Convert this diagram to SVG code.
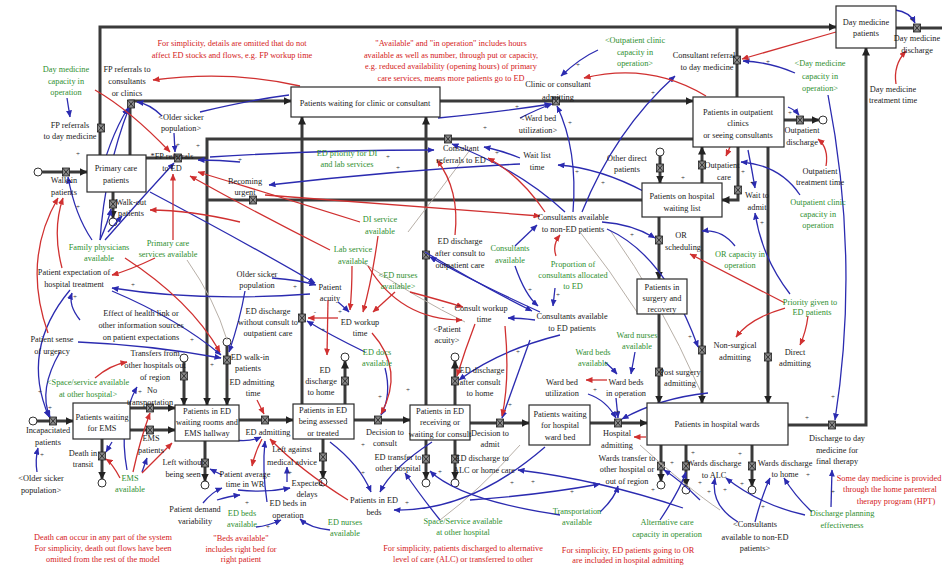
<svg xmlns="http://www.w3.org/2000/svg" xmlns:xlink="http://www.w3.org/1999/xlink" width="942" height="565" viewBox="0 0 942 565">
<style>
text{font-family:"Liberation Serif","Times New Roman",serif;font-size:8.3px;text-anchor:middle}
.k{fill:#1a1a1a}.g{fill:#2f8f2f}.r{fill:#d42020}
.box{fill:#fff;stroke:#2a2a2a;stroke-width:1.2}
.pipe{fill:none;stroke:#3a3a3a;stroke-width:3}
.b{fill:none;stroke:#2b2bb0;stroke-width:1.3}
.rd{fill:none;stroke:#d03030;stroke-width:1.3}
.gy{fill:none;stroke:#b8b0a8;stroke-width:1}
.pl text{font-size:7px;fill:#333}
</style>
<defs>
<marker id="ab" markerUnits="userSpaceOnUse" markerWidth="7" markerHeight="6" refX="6.5" refY="3" orient="auto"><path d="M0,0 L7,3 L0,6 Z" fill="#2b2bb0"/></marker>
<marker id="ar" markerUnits="userSpaceOnUse" markerWidth="7" markerHeight="6" refX="6.5" refY="3" orient="auto"><path d="M0,0 L7,3 L0,6 Z" fill="#d03030"/></marker>
<marker id="ap" markerUnits="userSpaceOnUse" markerWidth="8" markerHeight="8" refX="7.5" refY="4" orient="auto"><path d="M0,0 L8,4 L0,8 Z" fill="#222"/></marker>
<g id="vv"><rect x="-3.5" y="-4" width="7" height="8" fill="#888" stroke="#222" stroke-width="0.8"/><path d="M-3.5,-4 L3.5,4 M3.5,-4 L-3.5,4" stroke="#222" stroke-width="0.8"/></g>
<g id="cl"><circle r="4" fill="#fff" stroke="#333" stroke-width="1"/></g>
</defs>
<rect width="942" height="565" fill="#fff"/>

<g id="connectors">
<g id="pipes">
<path class="pipe" d="M100,155 V27 H836" marker-end="url(#ap)"/>
<path class="pipe" d="M737,97 V27"/>
<path class="pipe" d="M896,28 H942"/>
<path class="pipe" d="M130,155 V101 H291" marker-end="url(#ap)"/>
<path class="pipe" d="M440,101 H693" marker-end="url(#ap)"/>
<path class="pipe" d="M693,139 H207 V405" marker-end="url(#ap)"/>
<path class="pipe" d="M146,158 H207"/>
<path class="pipe" d="M642,200 H207"/>
<path class="pipe" d="M42,172 H87" marker-end="url(#ap)"/>
<path class="pipe" d="M113,192 V218" marker-end="url(#ap)"/>
<path class="pipe" d="M37,421 H73" marker-end="url(#ap)"/>
<path class="pipe" d="M130,408 H175" marker-end="url(#ap)"/>
<path class="pipe" d="M130,430 H175" marker-end="url(#ap)"/>
<path class="pipe" d="M102,439 V479" marker-end="url(#ap)"/>
<path class="pipe" d="M184,362 V405" marker-end="url(#ap)"/>
<path class="pipe" d="M227,346 V405" marker-end="url(#ap)"/>
<path class="pipe" d="M205,441 V481" marker-end="url(#ap)"/>
<path class="pipe" d="M239,420 H293" marker-end="url(#ap)"/>
<path class="pipe" d="M302,404 V117" marker-end="url(#ap)"/>
<path class="pipe" d="M345,404 V361" marker-end="url(#ap)"/>
<path class="pipe" d="M323,439 V478" marker-end="url(#ap)"/>
<path class="pipe" d="M354,420 H410" marker-end="url(#ap)"/>
<path class="pipe" d="M426,405 V117" marker-end="url(#ap)"/>
<path class="pipe" d="M455,405 V361" marker-end="url(#ap)"/>
<path class="pipe" d="M426,440 V479" marker-end="url(#ap)"/>
<path class="pipe" d="M455,440 V479" marker-end="url(#ap)"/>
<path class="pipe" d="M470,423 H529" marker-end="url(#ap)"/>
<path class="pipe" d="M590,423 H647" marker-end="url(#ap)"/>
<path class="pipe" d="M661,445 V481" marker-end="url(#ap)"/>
<path class="pipe" d="M686,445 V486" marker-end="url(#ap)"/>
<path class="pipe" d="M752,445 V486" marker-end="url(#ap)"/>
<path class="pipe" d="M788,425 H866 V48" marker-end="url(#ap)"/>
<path class="pipe" d="M784,120 H819" marker-end="url(#ap)"/>
<path class="pipe" d="M659,217 V279" marker-end="url(#ap)"/>
<path class="pipe" d="M659,314 V403" marker-end="url(#ap)"/>
<path class="pipe" d="M702,217 V403" marker-end="url(#ap)"/>
<path class="pipe" d="M702,183 V147" marker-end="url(#ap)"/>
<path class="pipe" d="M738,147 V200 H722" marker-end="url(#ap)"/>
<path class="pipe" d="M768,147 V403" marker-end="url(#ap)"/>
<path class="pipe" d="M660,156 V183" marker-end="url(#ap)"/>
</g>
<g id="clouds">
<use href="#cl" x="38" y="172"/><use href="#cl" x="113" y="222"/><use href="#cl" x="33" y="421"/><use href="#cl" x="102" y="483"/>
<use href="#cl" x="184" y="358"/><use href="#cl" x="227" y="342"/><use href="#cl" x="205" y="485"/><use href="#cl" x="345" y="357"/>
<use href="#cl" x="323" y="482"/><use href="#cl" x="455" y="357"/><use href="#cl" x="426" y="483"/><use href="#cl" x="455" y="483"/>
<use href="#cl" x="661" y="485"/><use href="#cl" x="686" y="490"/><use href="#cl" x="752" y="490"/><use href="#cl" x="823" y="120"/>
<use href="#cl" x="660" y="152"/>
</g>
<g id="valves">
<use href="#vv" x="101" y="128"/><use href="#vv" x="737" y="60"/><use href="#vv" x="917" y="28"/><use href="#vv" x="131" y="104"/>
<use href="#vv" x="556" y="101"/><use href="#vv" x="448" y="139"/><use href="#vv" x="178" y="158"/><use href="#vv" x="253" y="200"/>
<use href="#vv" x="66" y="172"/><use href="#vv" x="113" y="204"/><use href="#vv" x="53" y="421"/><use href="#vv" x="150" y="408"/>
<use href="#vv" x="150" y="430"/><use href="#vv" x="102" y="456"/><use href="#vv" x="184" y="376"/><use href="#vv" x="227" y="360"/>
<use href="#vv" x="205" y="463"/><use href="#vv" x="265" y="420"/><use href="#vv" x="302" y="318"/><use href="#vv" x="345" y="381"/>
<use href="#vv" x="323" y="457"/><use href="#vv" x="378" y="420"/><use href="#vv" x="426" y="255"/><use href="#vv" x="455" y="381"/>
<use href="#vv" x="426" y="459"/><use href="#vv" x="455" y="459"/><use href="#vv" x="500" y="423"/><use href="#vv" x="618" y="423"/>
<use href="#vv" x="661" y="466"/><use href="#vv" x="686" y="466"/><use href="#vv" x="752" y="466"/><use href="#vv" x="832" y="425"/>
<use href="#vv" x="800" y="120"/><use href="#vv" x="659" y="240"/><use href="#vv" x="659" y="372"/><use href="#vv" x="702" y="350"/>
<use href="#vv" x="702" y="165"/><use href="#vv" x="738" y="190"/><use href="#vv" x="768" y="357"/><use href="#vv" x="660" y="168"/>
</g>
<g id="grey-links">
<path class="gy" d="M362,262 Q420,300 465,322"/>
<path class="gy" d="M580,232 Q610,270 637,312"/>
<path class="gy" d="M187,260 Q215,300 227,340"/>
<path class="gy" d="M408,232 Q440,190 470,150"/>
<path class="gy" d="M610,230 Q660,300 700,390"/>
<path class="gy" d="M520,445 Q480,490 440,520"/>
<path class="gy" d="M640,445 Q690,490 720,510"/>
</g>
<g id="blue-links">
<path class="b" d="M598,50 Q580,58 561,76" marker-end="url(#ab)"/>
<path class="b" d="M795,73 Q770,62 743,61" marker-end="url(#ab)"/>
<path class="b" d="M828,95 Q860,260 835,420" marker-end="url(#ab)"/>
<path class="b" d="M67,98 L70,117" marker-end="url(#ab)"/>
<path class="b" d="M162,116 Q150,104 137,102" marker-end="url(#ab)"/>
<path class="b" d="M174,133 L175,152" marker-end="url(#ab)"/>
<path class="b" d="M97,190 Q108,140 128,108" marker-end="url(#ab)"/>
<path class="b" d="M520,118 Q540,108 552,104" marker-end="url(#ab)"/>
<path class="b" d="M438,118 Q500,112 551,104" marker-end="url(#ab)"/>
<path class="b" d="M573,212 Q578,150 557,106" marker-end="url(#ab)"/>
<path class="b" d="M582,212 Q615,130 675,76" marker-end="url(#ab)"/>
<path class="b" d="M520,158 Q500,150 484,147" marker-end="url(#ab)"/>
<path class="b" d="M645,192 Q600,168 558,165" marker-end="url(#ab)"/>
<path class="b" d="M210,157 Q320,150 434,150" marker-end="url(#ab)"/>
<path class="b" d="M240,162 Q220,160 198,160" marker-end="url(#ab)"/>
<path class="b" d="M520,164 Q400,170 269,185" marker-end="url(#ab)"/>
<path class="b" d="M565,212 Q520,170 452,144" marker-end="url(#ab)"/>
<path class="b" d="M272,278 Q300,280 316,285" marker-end="url(#ab)"/>
<path class="b" d="M310,294 Q200,302 112,288" marker-end="url(#ab)"/>
<path class="b" d="M150,192 Q250,245 315,283" marker-end="url(#ab)"/>
<path class="b" d="M112,291 Q180,320 221,355" marker-end="url(#ab)"/>
<path class="b" d="M78,342 Q150,345 221,358" marker-end="url(#ab)"/>
<path class="b" d="M245,291 Q240,320 229,352" marker-end="url(#ab)"/>
<path class="b" d="M365,352 Q330,335 307,321" marker-end="url(#ab)"/>
<path class="b" d="M338,302 Q345,308 349,312" marker-end="url(#ab)"/>
<path class="b" d="M515,246 L537,225" marker-end="url(#ab)"/>
<path class="b" d="M515,266 Q525,295 538,306" marker-end="url(#ab)"/>
<path class="b" d="M555,288 L553,306" marker-end="url(#ab)"/>
<path class="b" d="M425,252 Q480,285 532,311" marker-end="url(#ab)"/>
<path class="b" d="M602,222 Q632,224 655,238" marker-end="url(#ab)"/>
<path class="b" d="M607,229 Q665,255 698,347" marker-end="url(#ab)"/>
<path class="b" d="M735,246 Q722,229 702,231" marker-end="url(#ab)"/>
<path class="b" d="M790,294 Q762,258 755,213" marker-end="url(#ab)"/>
<path class="b" d="M748,150 Q752,170 755,188" marker-end="url(#ab)"/>
<path class="b" d="M635,352 L631,374" marker-end="url(#ab)"/>
<path class="b" d="M605,362 Q612,368 617,374" marker-end="url(#ab)"/>
<path class="b" d="M588,394 Q606,400 616,418" marker-end="url(#ab)"/>
<path class="b" d="M616,398 L618,418" marker-end="url(#ab)"/>
<path class="b" d="M708,393 Q660,398 622,419" marker-end="url(#ab)"/>
<path class="b" d="M530,340 Q512,390 502,418" marker-end="url(#ab)"/>
<path class="b" d="M560,335 Q500,350 459,380" marker-end="url(#ab)"/>
<path class="b" d="M535,320 Q520,318 508,318" marker-end="url(#ab)"/>
<path class="b" d="M540,312 Q470,280 430,257" marker-end="url(#ab)"/>
<path class="b" d="M385,368 Q392,395 381,415" marker-end="url(#ab)"/>
<path class="b" d="M812,512 Q795,496 784,478" marker-end="url(#ab)"/>
<path class="b" d="M805,515 Q760,505 726,478" marker-end="url(#ab)"/>
<path class="b" d="M831,507 L832,470" marker-end="url(#ab)"/>
<path class="b" d="M755,522 Q762,495 770,478" marker-end="url(#ab)"/>
<path class="b" d="M738,522 Q710,505 715,478" marker-end="url(#ab)"/>
<path class="b" d="M683,508 Q600,480 518,470" marker-end="url(#ab)"/>
<path class="b" d="M660,520 Q680,490 686,472" marker-end="url(#ab)"/>
<path class="b" d="M600,512 Q615,498 618,486" marker-end="url(#ab)"/>
<path class="b" d="M560,515 Q460,500 430,471" marker-end="url(#ab)"/>
<path class="b" d="M440,520 Q420,495 405,473" marker-end="url(#ab)"/>
<path class="b" d="M470,500 Q540,495 600,484" marker-end="url(#ab)"/>
<path class="b" d="M700,500 Q680,480 664,470" marker-end="url(#ab)"/>
<path class="b" d="M330,442 Q360,465 371,492" marker-end="url(#ab)"/>
<path class="b" d="M432,442 Q392,468 380,492" marker-end="url(#ab)"/>
<path class="b" d="M545,447 Q470,512 394,510" marker-end="url(#ab)"/>
<path class="b" d="M267,502 Q262,470 265,441" marker-end="url(#ab)"/>
<path class="b" d="M256,527 Q268,526 281,520" marker-end="url(#ab)"/>
<path class="b" d="M330,530 Q310,528 300,519" marker-end="url(#ab)"/>
<path class="b" d="M287,482 L287,467" marker-end="url(#ab)"/>
<path class="b" d="M238,490 Q265,493 290,488" marker-end="url(#ab)"/>
<path class="b" d="M235,440 Q250,442 261,437" marker-end="url(#ab)"/>
<path class="b" d="M222,475 L210,469" marker-end="url(#ab)"/>
<path class="b" d="M203,503 Q212,492 222,488" marker-end="url(#ab)"/>
<path class="b" d="M217,500 Q230,496 240,495" marker-end="url(#ab)"/>
<path class="b" d="M127,470 Q118,420 137,387" marker-end="url(#ab)"/>
<path class="b" d="M142,472 L147,458" marker-end="url(#ab)"/>
<path class="b" d="M112,442 L106,452" marker-end="url(#ab)"/>
<path class="b" d="M37,472 Q35,460 38,448" marker-end="url(#ab)"/>
<path class="b" d="M70,290 Q20,350 49,417" marker-end="url(#ab)"/>
<path class="b" d="M60,352 Q38,390 50,417" marker-end="url(#ab)"/>
<path class="b" d="M92,240 Q75,215 68,177" marker-end="url(#ab)"/>
<path class="b" d="M100,240 Q105,170 129,108" marker-end="url(#ab)"/>
<path class="b" d="M105,240 Q140,200 174,163" marker-end="url(#ab)"/>
<path class="b" d="M100,240 Q108,222 111,209" marker-end="url(#ab)"/>
<path class="b" d="M80,320 Q68,305 72,293" marker-end="url(#ab)"/>
<path class="b" d="M108,232 L122,216" marker-end="url(#ab)"/>
<path class="b" d="M895,10 Q910,12 915,23" marker-end="url(#ab)"/>
<path class="b" d="M788,107 Q795,110 799,115" marker-end="url(#ab)"/>
<path class="b" d="M800,195 Q780,165 741,162" marker-end="url(#ab)"/>
<path class="b" d="M200,112 Q250,100 289,95"/>
</g>
<g id="red-links">
<path class="rd" d="M300,86 Q230,70 153,80" marker-end="url(#ar)"/>
<path class="rd" d="M836,32 L742,59" marker-end="url(#ar)"/>
<path class="rd" d="M896,84 Q893,65 906,51" marker-end="url(#ar)"/>
<path class="rd" d="M826,166 Q829,148 818,139" marker-end="url(#ar)"/>
<path class="rd" d="M730,147 L726,156" marker-end="url(#ar)"/>
<path class="rd" d="M706,96 Q650,62 584,78" marker-end="url(#ar)"/>
<path class="rd" d="M155,258 Q130,270 112,275" marker-end="url(#ar)"/>
<path class="rd" d="M48,333 Q22,260 58,198" marker-end="url(#ar)"/>
<path class="rd" d="M62,268 Q52,230 63,198" marker-end="url(#ar)"/>
<path class="rd" d="M240,222 Q190,210 150,210" marker-end="url(#ar)"/>
<path class="rd" d="M173,240 L173,174" marker-end="url(#ar)"/>
<path class="rd" d="M125,258 Q190,300 220,352" marker-end="url(#ar)"/>
<path class="rd" d="M95,90 Q130,110 170,152" marker-end="url(#ar)"/>
<path class="rd" d="M360,222 Q290,200 198,172" marker-end="url(#ar)"/>
<path class="rd" d="M330,250 Q260,215 190,176" marker-end="url(#ar)"/>
<path class="rd" d="M545,212 Q520,175 488,158" marker-end="url(#ar)"/>
<path class="rd" d="M455,235 Q460,190 437,160" marker-end="url(#ar)"/>
<path class="rd" d="M338,318 L308,318" marker-end="url(#ar)"/>
<path class="rd" d="M328,300 L327,355" marker-end="url(#ar)"/>
<path class="rd" d="M352,266 Q352,290 350,310" marker-end="url(#ar)"/>
<path class="rd" d="M378,236 Q372,280 363,312" marker-end="url(#ar)"/>
<path class="rd" d="M395,292 L373,312" marker-end="url(#ar)"/>
<path class="rd" d="M372,333 Q405,370 381,414" marker-end="url(#ar)"/>
<path class="rd" d="M556,256 Q552,245 560,235" marker-end="url(#ar)"/>
<path class="rd" d="M785,303 Q740,280 690,254" marker-end="url(#ar)"/>
<path class="rd" d="M785,308 Q750,318 736,337" marker-end="url(#ar)"/>
<path class="rd" d="M808,316 Q806,332 800,345" marker-end="url(#ar)"/>
<path class="rd" d="M607,380 L586,380" marker-end="url(#ar)"/>
<path class="rd" d="M646,437 L634,437" marker-end="url(#ar)"/>
<path class="rd" d="M505,326 Q510,380 502,416" marker-end="url(#ar)"/>
<path class="rd" d="M475,324 Q465,350 457,376" marker-end="url(#ar)"/>
<path class="rd" d="M410,292 Q440,300 463,307" marker-end="url(#ar)"/>
<path class="rd" d="M368,266 Q400,320 462,320" marker-end="url(#ar)"/>
<path class="rd" d="M348,500 Q300,470 270,439" marker-end="url(#ar)"/>
<path class="rd" d="M257,400 L264,414" marker-end="url(#ar)"/>
<path class="rd" d="M262,439 Q255,452 252,466" marker-end="url(#ar)"/>
<path class="rd" d="M133,472 Q140,440 150,413" marker-end="url(#ar)"/>
<path class="rd" d="M120,478 Q112,463 106,459" marker-end="url(#ar)"/>
<path class="rd" d="M142,473 Q160,455 172,443" marker-end="url(#ar)"/>
<path class="rd" d="M95,378 Q110,365 127,362" marker-end="url(#ar)"/>
<path class="rd" d="M265,195 Q400,205 540,216" marker-end="url(#ar)"/>
</g>
</g>

<g id="stock-day-medicine"><rect class="box" x="836" y="6" width="60" height="42"/><text class="k" x="866" y="25">Day medicine</text><text class="k" x="866" y="36">patients</text></g>
<g id="stock-clinic-wait"><rect class="box" x="291" y="87" width="149" height="30"/><text class="k" x="365" y="106">Patients waiting for clinic or consultant</text></g>
<g id="stock-outpatient"><rect class="box" x="693" y="97" width="91" height="50"/><text class="k" x="738" y="115">Patients in outpatient</text><text class="k" x="738" y="126">clinics</text><text class="k" x="738" y="138">or seeing consultants</text></g>
<g id="stock-primary"><rect class="box" x="87" y="155" width="59" height="37"/><text class="k" x="116" y="171">Primary care</text><text class="k" x="116" y="183">patients</text></g>
<g id="stock-waitlist"><rect class="box" x="642" y="183" width="80" height="34"/><text class="k" x="682" y="199">Patients on hospital</text><text class="k" x="682" y="211">waiting list</text></g>
<g id="stock-surgery"><rect class="box" x="637" y="279" width="50" height="35"/><text class="k" x="662" y="290">Patients in</text><text class="k" x="662" y="301">surgery and</text><text class="k" x="662" y="312">recovery</text></g>
<g id="stock-ems"><rect class="box" x="73" y="403" width="57" height="36"/><text class="k" x="102" y="420">Patients waiting</text><text class="k" x="102" y="431">for EMS</text></g>
<g id="stock-ed-wait"><rect class="box" x="175" y="405" width="64" height="36"/><text class="k" x="207" y="414">Patients in ED</text><text class="k" x="207" y="425">waiting rooms and</text><text class="k" x="207" y="436">EMS hallway</text></g>
<g id="stock-ed-assess"><rect class="box" x="293" y="404" width="61" height="35"/><text class="k" x="323" y="413">Patients in ED</text><text class="k" x="323" y="424">being assessed</text><text class="k" x="323" y="436">or treated</text></g>
<g id="stock-ed-consult"><rect class="box" x="410" y="405" width="60" height="35"/><text class="k" x="440" y="414">Patients in ED</text><text class="k" x="440" y="425">receiving or</text><text class="k" x="440" y="437">waiting for consult</text></g>
<g id="stock-ward-wait"><rect class="box" x="529" y="405" width="61" height="40"/><text class="k" x="560" y="417">Patients waiting</text><text class="k" x="560" y="428">for hospital</text><text class="k" x="560" y="440">ward bed</text></g>
<g id="stock-wards"><rect class="box" x="647" y="403" width="141" height="42"/><text class="k" x="717" y="427">Patients in hospital wards</text></g>

<g id="v-fp-consult"><text class="k" x="127" y="72">FP referrals to</text><text class="k" x="127" y="84">consultants</text><text class="k" x="127" y="96">or clinics</text></g>
<g id="v-fp-daymed"><text class="k" x="70" y="128">FP referrals</text><text class="k" x="70" y="139">to day medicine</text></g>
<g id="v-older1"><text class="k" x="181" y="120">&lt;Older sicker</text><text class="k" x="181" y="131">population&gt;</text></g>
<g id="v-fp-ed"><text class="k" x="172" y="159">*FP referrals</text><text class="k" x="172" y="171">to ED</text></g>
<g id="v-walkin"><text class="k" x="64" y="183">Walk-in</text><text class="k" x="64" y="195">patients</text></g>
<g id="v-walkout"><text class="k" x="131" y="205">Walk-out</text><text class="k" x="131" y="216">patients</text></g>
<g id="v-urgent"><text class="k" x="245" y="184">Becoming</text><text class="k" x="245" y="195">urgent</text></g>
<g id="v-cons-ref-ed"><text class="k" x="461" y="151">Consultant</text><text class="k" x="461" y="163">referrals to ED</text></g>
<g id="v-clinic-adm"><text class="k" x="558" y="87">Clinic or consultant</text><text class="k" x="558" y="100">admitting</text></g>
<g id="v-wardutil1"><text class="k" x="538" y="121">&lt;Ward bed</text><text class="k" x="538" y="133">utilization&gt;</text></g>
<g id="v-waitlisttime"><text class="k" x="537" y="158">Wait list</text><text class="k" x="537" y="170">time</text></g>
<g id="v-otherdirect"><text class="k" x="627" y="161">Other direct</text><text class="k" x="627" y="172">patients</text></g>
<g id="v-cons-daymed"><text class="k" x="704" y="58">Consultant referral</text><text class="k" x="707" y="70">to day medicine</text></g>
<g id="v-daymed-dis"><text class="k" x="917" y="41">Day medicine</text><text class="k" x="917" y="53">discharge</text></g>
<g id="v-daymed-time"><text class="k" x="893" y="92">Day medicine</text><text class="k" x="893" y="103">treatment time</text></g>
<g id="v-out-dis"><text class="k" x="802" y="133">Outpatient</text><text class="k" x="802" y="145">discharge</text></g>
<g id="v-out-time"><text class="k" x="820" y="174">Outpatient</text><text class="k" x="820" y="185">treatment time</text></g>
<g id="v-out-care"><text class="k" x="722" y="168">Outpatient</text><text class="k" x="724" y="180">care</text></g>
<g id="v-waitadmit"><text class="k" x="757" y="198">Wait to</text><text class="k" x="757" y="210">admit</text></g>
<g id="v-orsched"><text class="k" x="681" y="238">OR</text><text class="k" x="683" y="250">scheduling</text></g>
<g id="v-cons-nonED"><text class="k" x="573" y="220">Consultants available</text><text class="k" x="573" y="232">to non-ED patients</text></g>
<g id="v-ed-dis-cons-out"><text class="k" x="460" y="244">ED discharge</text><text class="k" x="460" y="256">after consult to</text><text class="k" x="460" y="268">outpatient care</text></g>
<g id="v-consult-workup"><text class="k" x="481" y="311">Consult workup</text><text class="k" x="484" y="322">time</text></g>
<g id="v-acuity2"><text class="k" x="447" y="332">&lt;Patient</text><text class="k" x="447" y="343">acuity&gt;</text></g>
<g id="v-older2"><text class="k" x="257" y="277">Older sicker</text><text class="k" x="257" y="288">population</text></g>
<g id="v-acuity"><text class="k" x="330" y="290">Patient</text><text class="k" x="330" y="301">acuity</text></g>
<g id="v-ed-dis-noconsult"><text class="k" x="268" y="314">ED discharge</text><text class="k" x="268" y="325">without consult to</text><text class="k" x="268" y="336">outpatient care</text></g>
<g id="v-ed-workup"><text class="k" x="360" y="325">ED workup</text><text class="k" x="360" y="336">time</text></g>
<g id="v-ed-walkin"><text class="k" x="250" y="360">ED walk-in</text><text class="k" x="248" y="371">patients</text></g>
<g id="v-ed-dis-home"><text class="k" x="325" y="373">ED</text><text class="k" x="321" y="384">discharge</text><text class="k" x="321" y="395">to home</text></g>
<g id="v-expect"><text class="k" x="74" y="275">Patient expectation of</text><text class="k" x="74" y="287">hospital treatment</text></g>
<g id="v-healthlink"><text class="k" x="141" y="316">Effect of health link or</text><text class="k" x="141" y="328">other information sources</text><text class="k" x="141" y="340">on patient expectations</text></g>
<g id="v-urgency"><text class="k" x="52" y="342">Patient sense</text><text class="k" x="52" y="354">of urgency</text></g>
<g id="v-transfers"><text class="k" x="155" y="356">Transfers from</text><text class="k" x="155" y="368">other hospitals out</text><text class="k" x="155" y="380">of region</text></g>
<g id="v-incap"><text class="k" x="48" y="433">Incapacitated</text><text class="k" x="48" y="445">patients</text></g>
<g id="v-older3"><text class="k" x="41" y="481">&lt;Older sicker</text><text class="k" x="41" y="493">population&gt;</text></g>
<g id="v-notransport"><text class="k" x="152" y="393">No</text><text class="k" x="150" y="405">transportation</text></g>
<g id="v-emspat"><text class="k" x="151" y="441">EMS</text><text class="k" x="151" y="453">patients</text></g>
<g id="v-death"><text class="k" x="83" y="456">Death in</text><text class="k" x="83" y="467">transit</text></g>
<g id="v-lwbs"><text class="k" x="183" y="465">Left without</text><text class="k" x="183" y="477">being seen</text></g>
<g id="v-avgtime"><text class="k" x="245" y="477">Patient average</text><text class="k" x="245" y="487">time in WR</text></g>
<g id="v-demand"><text class="k" x="195" y="512">Patient demand</text><text class="k" x="195" y="524">variability</text></g>
<g id="v-ed-adm-time"><text class="k" x="252" y="385">ED admitting</text><text class="k" x="253" y="396">time</text></g>
<g id="v-ed-adm"><text class="k" x="268" y="435">ED admitting</text></g>
<g id="v-lama"><text class="k" x="292" y="452">Left against</text><text class="k" x="292" y="465">medical advice</text></g>
<g id="v-delays"><text class="k" x="307" y="486">Expected</text><text class="k" x="307" y="497">delays</text></g>
<g id="v-edbeds-op"><text class="k" x="288" y="506">ED beds in</text><text class="k" x="288" y="518">operation</text></g>
<g id="v-dec-consult"><text class="k" x="385" y="435">Decision to</text><text class="k" x="385" y="446">consult</text></g>
<g id="v-ed-transfer"><text class="k" x="398" y="460">ED transfer to</text><text class="k" x="398" y="471">other hospital</text></g>
<g id="v-edbeds-pat"><text class="k" x="374" y="503">Patients in ED</text><text class="k" x="374" y="515">beds</text></g>
<g id="v-ed-dis-cons-home"><text class="k" x="482" y="373">ED discharge</text><text class="k" x="480" y="385">after consult</text><text class="k" x="480" y="396">to home</text></g>
<g id="v-dec-admit"><text class="k" x="490" y="436">Decision to</text><text class="k" x="490" y="447">admit</text></g>
<g id="v-ed-alc"><text class="k" x="482" y="461">ED discharge to</text><text class="k" x="484" y="473">ALC or home care</text></g>
<g id="v-wardutil"><text class="k" x="562" y="385">Ward bed</text><text class="k" x="562" y="396">utilization</text></g>
<g id="v-wardbeds-op"><text class="k" x="626" y="385">Ward beds</text><text class="k" x="626" y="396">in operation</text></g>
<g id="v-hosp-adm"><text class="k" x="617" y="436">Hospital</text><text class="k" x="617" y="448">admitting</text></g>
<g id="v-ward-transfer"><text class="k" x="627" y="461">Wards transfer to</text><text class="k" x="627" y="472">other hospital or</text><text class="k" x="627" y="484">out of region</text></g>
<g id="v-postsurg"><text class="k" x="680" y="375">Post surgery</text><text class="k" x="680" y="386">admitting</text></g>
<g id="v-nonsurg"><text class="k" x="735" y="348">Non-surgical</text><text class="k" x="735" y="360">admitting</text></g>
<g id="v-direct"><text class="k" x="795" y="355">Direct</text><text class="k" x="795" y="366">admitting</text></g>
<g id="v-ward-alc"><text class="k" x="714" y="466">Wards discharge</text><text class="k" x="714" y="478">to ALC</text></g>
<g id="v-ward-home"><text class="k" x="785" y="466">Wards discharge</text><text class="k" x="785" y="477">to home</text></g>
<g id="v-dis-daymed"><text class="k" x="837" y="441">Discharge to day</text><text class="k" x="837" y="453">medicine for</text><text class="k" x="837" y="464">final therapy</text></g>
<g id="v-cons-nonED2"><text class="k" x="755" y="527">&lt;Consultants</text><text class="k" x="755" y="540">available to non-ED</text><text class="k" x="755" y="551">patients&gt;</text></g>

<g id="v-daymed-cap"><text class="g" x="66" y="72">Day medicine</text><text class="g" x="66" y="84">capacity in</text><text class="g" x="66" y="95">operation</text></g>
<g id="v-out-cap2"><text class="g" x="635" y="43">&lt;Outpatient clinic</text><text class="g" x="635" y="55">capacity in</text><text class="g" x="635" y="66">operation&gt;</text></g>
<g id="v-daymed-cap2"><text class="g" x="820" y="66">&lt;Day medicine</text><text class="g" x="820" y="79">capacity in</text><text class="g" x="820" y="91">operation&gt;</text></g>
<g id="v-ed-priority"><text class="g" x="347" y="156">ED priority for DI</text><text class="g" x="347" y="167">and lab services</text></g>
<g id="v-fam-phys"><text class="g" x="99" y="250">Family physicians</text><text class="g" x="99" y="261">available</text></g>
<g id="v-primary-serv"><text class="g" x="168" y="246">Primary care</text><text class="g" x="168" y="257">services available</text></g>
<g id="v-di"><text class="g" x="380" y="222">DI service</text><text class="g" x="380" y="234">available</text></g>
<g id="v-lab"><text class="g" x="353" y="252">Lab service</text><text class="g" x="353" y="264">available</text></g>
<g id="v-ednurses2"><text class="g" x="398" y="278">&lt;ED nurses</text><text class="g" x="398" y="289">available&gt;</text></g>
<g id="v-eddocs"><text class="g" x="377" y="355">ED docs</text><text class="g" x="377" y="366">available</text></g>
<g id="v-cons-avail"><text class="g" x="510" y="251">Consultants</text><text class="g" x="510" y="263">available</text></g>
<g id="v-proportion"><text class="g" x="573" y="267">Proportion of</text><text class="g" x="573" y="278">consultants allocated</text><text class="g" x="573" y="289">to ED</text></g>
<g id="v-cons-ED"><text class="k" x="572" y="319">Consultants available</text><text class="k" x="572" y="331">to ED patients</text></g>
<g id="v-wardnurses"><text class="g" x="637" y="338">Ward nurses</text><text class="g" x="637" y="349">available</text></g>
<g id="v-wardbeds"><text class="g" x="593" y="355">Ward beds</text><text class="g" x="593" y="366">available</text></g>
<g id="v-out-cap"><text class="g" x="818" y="205">Outpatient clinic</text><text class="g" x="818" y="217">capacity in</text><text class="g" x="818" y="228">operation</text></g>
<g id="v-or-cap"><text class="g" x="740" y="257">OR capacity in</text><text class="g" x="740" y="268">operation</text></g>
<g id="v-priority"><text class="g" x="810" y="305">Priority given to</text><text class="g" x="812" y="315">ED patients</text></g>
<g id="v-space2"><text class="g" x="88" y="385">&lt;Space/service available</text><text class="g" x="88" y="397">at other hospital&gt;</text></g>
<g id="v-ems"><text class="g" x="130" y="481">EMS</text><text class="g" x="130" y="492">available</text></g>
<g id="v-edbeds"><text class="g" x="242" y="516">ED beds</text><text class="g" x="242" y="527">available</text></g>
<g id="v-ednurses"><text class="g" x="345" y="525">ED nurses</text><text class="g" x="345" y="536">available</text></g>
<g id="v-space"><text class="g" x="463" y="524">Space/Service available</text><text class="g" x="463" y="535">at other hospital</text></g>
<g id="v-transport"><text class="g" x="577" y="514">Transportation</text><text class="g" x="577" y="525">available</text></g>
<g id="v-altcare"><text class="g" x="667" y="525">Alternative care</text><text class="g" x="667" y="537">capacity in operation</text></g>
<g id="v-dplan"><text class="g" x="842" y="516">Discharge planning</text><text class="g" x="842" y="528">effectiveness</text></g>

<g id="notes">
<text class="r" x="232" y="46">For simplicity, details are omitted that do not</text>
<text class="r" x="232" y="58">affect ED stocks and flows, e.g. FP workup time</text>
<text class="r" x="451" y="46">"Available" and "in operation" includes hours</text>
<text class="r" x="451" y="58">available as well as number, through put or capacity,</text>
<text class="r" x="451" y="69">e.g. reduced availability (opening hours) of primary</text>
<text class="r" x="451" y="81">care services, means more patients go to ED</text>
<text class="r" x="103" y="540">Death can occur in any part of the system</text>
<text class="r" x="103" y="551">For simplicity, death out flows have been</text>
<text class="r" x="103" y="562">omitted from the rest of the model</text>
<text class="r" x="241" y="541">"Beds available"</text>
<text class="r" x="241" y="552">includes right bed for</text>
<text class="r" x="241" y="562">right patient</text>
<text class="r" x="463" y="551">For simplicity, patients discharged to alternative</text>
<text class="r" x="463" y="562">level of care (ALC) or transferred to other</text>
<text class="r" x="628" y="553">For simplicity, ED patients going to OR</text>
<text class="r" x="628" y="563">are included in hospital admitting</text>
<text class="r" x="889" y="481">Some day medicine is provided</text>
<text class="r" x="890" y="492">through the home parenteral</text>
<text class="r" x="896" y="504">therapy program (HPT)</text>
</g>

<g id="polarity" class="pl">
<text x="78" y="156">+</text><text x="178" y="147">+</text><text x="198" y="148">+</text><text x="240" y="162">+</text><text x="388" y="159">+</text><text x="398" y="170">+</text>
<text x="517" y="109">+</text><text x="485" y="130">+</text><text x="570" y="125">+</text><text x="578" y="67">+</text><text x="653" y="95">+</text><text x="497" y="155">+</text>
<text x="577" y="174">+</text><text x="603" y="185">+</text><text x="683" y="180">+</text><text x="768" y="64">+</text><text x="912" y="22">+</text><text x="790" y="115">+</text>
<text x="743" y="174">+</text><text x="752" y="185">+</text><text x="78" y="209">+</text><text x="133" y="287">+</text><text x="75" y="299">+</text><text x="192" y="342">+</text>
<text x="212" y="367">+</text><text x="295" y="289">+</text><text x="340" y="314">+</text><text x="323" y="332">+</text><text x="315" y="314">-</text><text x="443" y="309">-</text>
<text x="632" y="237">+</text><text x="558" y="297">+</text><text x="530" y="292">+</text><text x="518" y="354">+</text><text x="690" y="339">+</text><text x="762" y="225">+</text>
<text x="40" y="394">+</text><text x="50" y="410">+</text><text x="140" y="394">+</text><text x="42" y="457">+</text><text x="380" y="399">+</text><text x="363" y="447">+</text>
<text x="363" y="475">+</text><text x="290" y="475">+</text><text x="247" y="505">+</text><text x="268" y="529">+</text><text x="408" y="392">+</text><text x="440" y="474">+</text>
<text x="407" y="505">+</text><text x="510" y="407">+</text><text x="595" y="392">+</text><text x="618" y="414">+</text><text x="512" y="485">+</text><text x="533" y="484">+</text>
<text x="572" y="494">+</text><text x="653" y="492">+</text><text x="672" y="465">+</text><text x="693" y="455">+</text><text x="700" y="485">+</text>
<text x="833" y="399">+</text><text x="807" y="420">+</text><text x="740" y="456">+</text><text x="742" y="486">+</text><text x="709" y="494">+</text><text x="725" y="492">+</text>
<text x="763" y="509">+</text><text x="808" y="477">+</text><text x="833" y="494">+</text>
</g>
</svg>
